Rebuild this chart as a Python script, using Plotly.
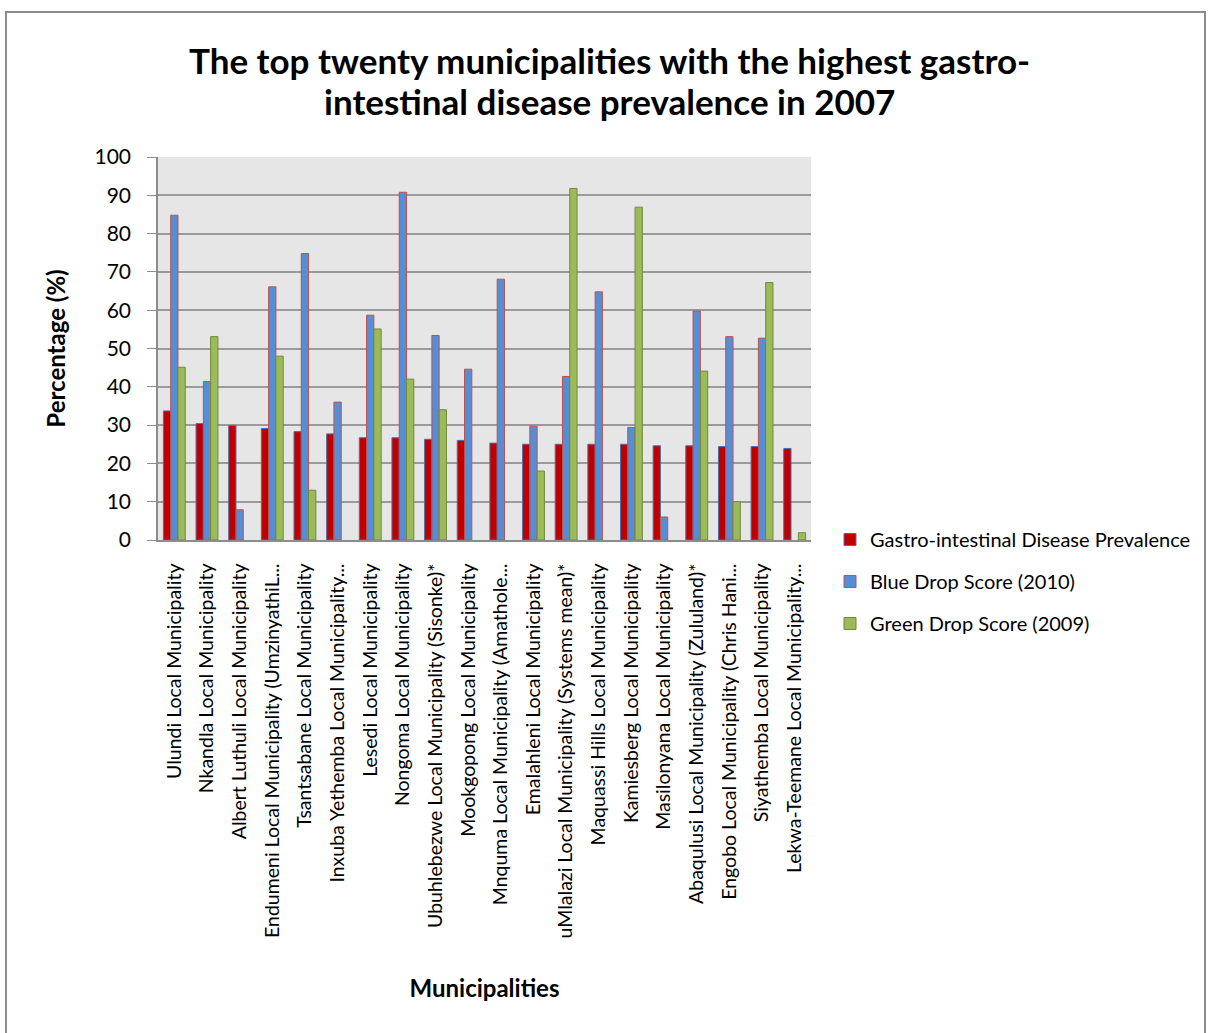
import plotly.graph_objects as go

# Municipality names as shown on the category axis
municipalities = [
    "Ulundi Local Municipality",
    "Nkandla Local Municipality",
    "Albert Luthuli Local Municipality",
    "Endumeni Local Municipality (UmzinyathiL...",
    "Tsantsabane Local Municipality",
    "Inxuba Yethemba Local Municipality...",
    "Lesedi Local Municipality",
    "Nongoma Local Municipality",
    "Ubuhlebezwe Local Municipality (Sisonke)*",
    "Mookgopong Local Municipality",
    "Mnquma Local Municipality (Amathole...",
    "Emalahleni Local Municipality",
    "uMlalazi Local Municipality (Systems mean)*",
    "Maquassi Hills Local Municipality",
    "Kamiesberg Local Municipality",
    "Masilonyana Local Municipality",
    "Abaqulusi Local Municipality (Zululand)*",
    "Engobo Local Municipality (Chris Hani...",
    "Siyathemba Local Municipality",
    "Lekwa-Teemane Local Municipality...",
]

gastro_prevalence = [33.7, 30.4, 29.9, 29.1, 28.3, 27.7, 26.7, 26.7, 26.3, 26.0,
                     25.3, 25.0, 25.0, 25.0, 25.0, 24.6, 24.6, 24.4, 24.4, 23.9]
blue_drop_2010 = [84.8, 41.4, 7.9, 66.1, 74.8, 36.0, 58.7, 90.8, 53.4, 44.6,
                  68.1, 29.7, 42.7, 64.8, 29.4, 6.0, 59.8, 53.1, 52.7, None]
green_drop_2009 = [45.1, 53.1, None, 48.0, 13.0, None, 55.1, 42.0, 34.0, None,
                   None, 18.0, 91.8, None, 86.9, None, 44.1, 10.0, 67.2, 1.9]

series_names = ["Gastro-intestinal Disease Prevalence",
                "Blue Drop Score (2010)",
                "Green Drop Score (2009)"]

title_lines = ["The top twenty municipalities with the highest gastro-",
               "intestinal disease prevalence in 2007"]

FONT = "Lato, Carlito, Calibri, sans-serif"

fig = go.Figure()
styles = [
    ("#C00000", "#4F6FA8", gastro_prevalence),
    ("#558ED5", "#C0504D", blue_drop_2010),
    ("#9BBB59", "#71893F", green_drop_2009),
]
for i, (name, (fill, edge, vals)) in enumerate(zip(series_names, styles)):
    fig.add_trace(go.Bar(
        x=municipalities, y=vals, name=name,
        marker=dict(color=fill, line=dict(color=edge, width=1)),
        legendgroup=f"g{i}",
    ))

W, H = 1209, 1033
L, R, T, B = 158, 811, 157, 540
pw, ph = R - L, B - T

def px_x(x):
    return (x - L) / pw

def px_y(y):
    return (B - y) / ph

fig.update_layout(
    width=W, height=H,
    margin=dict(l=L, r=W - R, t=T, b=H - B, pad=0),
    paper_bgcolor="white",
    plot_bgcolor="#E6E6E6",
    barmode="group",
    bargap=0.33,
    bargroupgap=0.0,
    font=dict(family=FONT, color="black"),
    legend=dict(
        x=px_x(830), xanchor="left",
        y=px_y(520), yanchor="top",
        font=dict(size=20, family=FONT),
        tracegroupgap=13,
        bgcolor="rgba(0,0,0,0)",
    ),
    showlegend=True,
)

# two-line chart title
for line, yc in zip(title_lines, [60, 101]):
    fig.add_annotation(
        text=f"<b>{line}</b>", xref="paper", yref="paper",
        x=px_x(609), y=px_y(yc), xanchor="center", yanchor="middle",
        showarrow=False, font=dict(size=35, family=FONT),
    )

fig.update_yaxes(
    range=[0, 100], dtick=10,
    showgrid=True, gridcolor="#9A9A9A", gridwidth=1.5,
    showline=True, linecolor="#8C8C8C", linewidth=1.5,
    ticks="outside", ticklen=9, tickcolor="#8C8C8C",
    ticklabelstandoff=12,
    tickfont=dict(size=21, family=FONT),
    title=dict(text="<b>Percentage (%)</b>", font=dict(size=24, family=FONT), standoff=22),
    zeroline=False,
)
fig.update_xaxes(
    tickangle=-90,
    tickfont=dict(size=19.5, family=FONT),
    ticklabelstandoff=14,
    showline=True, linecolor="#8C8C8C", linewidth=1.5,
    ticks="",
    title=dict(text="<b>Municipalities</b>", font=dict(size=24, family=FONT), standoff=43),
)

# outer chart border
fig.add_shape(type="rect", xref="paper", yref="paper",
              x0=px_x(6), x1=px_x(1205), y0=px_y(1045), y1=px_y(12),
              line=dict(color="#8C8C8C", width=2), fillcolor="rgba(0,0,0,0)", layer="below")

fig.write_html("out.html")
